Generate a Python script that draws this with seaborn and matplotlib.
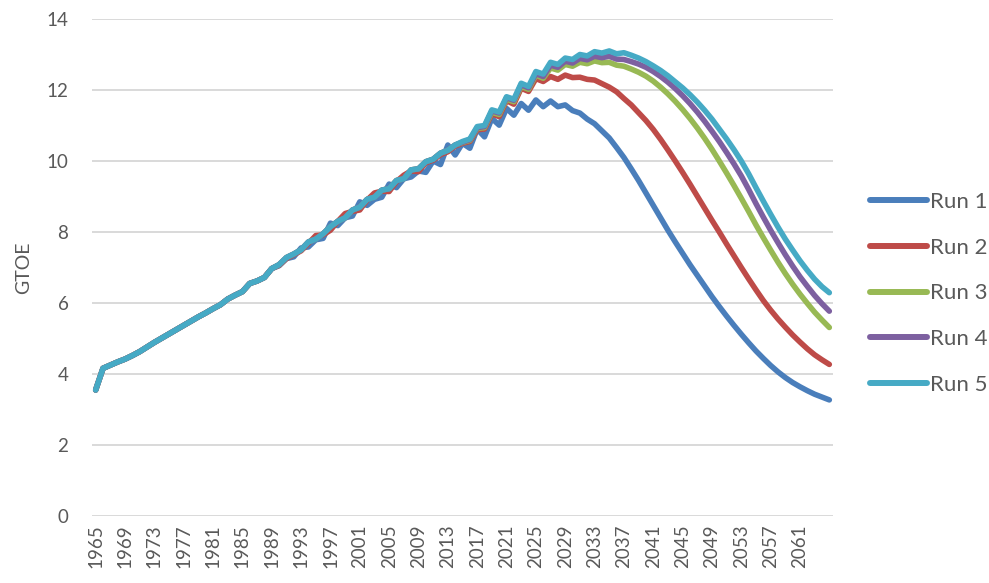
import numpy as np
import pandas as pd
import matplotlib
matplotlib.use("Agg")
import matplotlib.pyplot as plt
import seaborn as sns

years = list(range(1965, 2066))
history_1965_1989 = [3.55, 4.16, 4.25, 4.34, 4.42, 4.52, 4.63, 4.76, 4.89, 5.01,
                     5.13, 5.25, 5.37, 5.49, 5.61, 5.72, 5.84, 5.95, 6.11, 6.22,
                     6.32, 6.55, 6.62, 6.72, 6.97]

run1_1990_2065 = [7.05, 7.25, 7.30, 7.55, 7.58, 7.78, 7.82, 8.25, 8.18, 8.40,
                  8.45, 8.85, 8.75, 8.92, 8.98, 9.35, 9.25, 9.50, 9.55, 9.72,
                  9.68, 10.00, 9.90, 10.45, 10.17, 10.50, 10.36, 10.90, 10.68, 11.20,
                  11.01, 11.48, 11.29, 11.62, 11.43, 11.72, 11.53, 11.69, 11.53, 11.58,
                  11.42, 11.35, 11.18, 11.05, 10.85, 10.65, 10.38, 10.10, 9.78, 9.45,
                  9.10, 8.75, 8.40, 8.05, 7.72, 7.40, 7.08, 6.78, 6.48, 6.18,
                  5.90, 5.63, 5.37, 5.12, 4.88, 4.65, 4.44, 4.24, 4.06, 3.90,
                  3.76, 3.64, 3.53, 3.43, 3.35, 3.27]
run2_1990_2065 = [7.06, 7.25, 7.36, 7.47, 7.68, 7.90, 7.92, 8.05, 8.30, 8.52,
                  8.58, 8.62, 8.90, 9.10, 9.15, 9.14, 9.42, 9.60, 9.72, 9.70,
                  9.95, 10.02, 10.18, 10.26, 10.42, 10.50, 10.55, 10.88, 10.90, 11.33,
                  11.25, 11.70, 11.60, 12.05, 11.96, 12.32, 12.24, 12.38, 12.30, 12.42,
                  12.35, 12.36, 12.30, 12.28, 12.18, 12.08, 11.95, 11.76, 11.58, 11.36,
                  11.14, 10.89, 10.61, 10.31, 10.00, 9.68, 9.35, 9.01, 8.67, 8.33,
                  8.00, 7.66, 7.33, 7.00, 6.68, 6.37, 6.07, 5.80, 5.55, 5.32,
                  5.10, 4.90, 4.71, 4.54, 4.40, 4.27]
run3_1990_2065 = [7.08, 7.28, 7.38, 7.50, 7.72, 7.80, 7.95, 8.15, 8.30, 8.40,
                  8.62, 8.70, 8.92, 8.98, 9.18, 9.22, 9.45, 9.50, 9.75, 9.78,
                  9.98, 10.05, 10.22, 10.30, 10.45, 10.52, 10.58, 10.92, 10.94, 11.37,
                  11.31, 11.74, 11.67, 12.10, 12.02, 12.42, 12.33, 12.62, 12.56, 12.72,
                  12.67, 12.78, 12.74, 12.82, 12.77, 12.78, 12.70, 12.67, 12.59, 12.50,
                  12.39, 12.25, 12.08, 11.89, 11.68, 11.45, 11.20, 10.93, 10.64, 10.33,
                  10.00, 9.66, 9.31, 8.95, 8.58, 8.20, 7.84, 7.49, 7.15, 6.83,
                  6.53, 6.25, 5.99, 5.74, 5.52, 5.31]
run4_1990_2065 = [7.08, 7.28, 7.38, 7.50, 7.72, 7.80, 7.95, 8.15, 8.30, 8.40,
                  8.62, 8.70, 8.92, 8.98, 9.18, 9.22, 9.45, 9.50, 9.75, 9.78,
                  9.98, 10.05, 10.22, 10.30, 10.45, 10.53, 10.60, 10.94, 10.97, 11.41,
                  11.35, 11.78, 11.71, 12.15, 12.06, 12.46, 12.38, 12.70, 12.64, 12.81,
                  12.76, 12.89, 12.85, 12.95, 12.91, 12.95, 12.87, 12.86, 12.80, 12.73,
                  12.64, 12.52, 12.38, 12.22, 12.04, 11.84, 11.62, 11.38, 11.12, 10.84,
                  10.55, 10.24, 9.92, 9.58, 9.20, 8.80, 8.42, 8.05, 7.70, 7.36,
                  7.04, 6.74, 6.47, 6.21, 5.98, 5.77]
run5_1990_2065 = [7.08, 7.28, 7.38, 7.50, 7.72, 7.80, 7.95, 8.15, 8.30, 8.40,
                  8.62, 8.70, 8.92, 8.98, 9.18, 9.22, 9.45, 9.50, 9.75, 9.78,
                  9.98, 10.05, 10.22, 10.30, 10.45, 10.55, 10.62, 10.97, 11.00, 11.44,
                  11.38, 11.81, 11.74, 12.19, 12.10, 12.52, 12.45, 12.78, 12.72, 12.90,
                  12.86, 13.00, 12.96, 13.08, 13.04, 13.10, 13.02, 13.05, 12.98, 12.90,
                  12.80, 12.68, 12.55, 12.40, 12.23, 12.06, 11.87, 11.66, 11.43, 11.18,
                  10.90, 10.62, 10.32, 10.00, 9.64, 9.25, 8.87, 8.50, 8.14, 7.80,
                  7.49, 7.19, 6.92, 6.67, 6.46, 6.29]

run_names = ["Run 1", "Run 2", "Run 3", "Run 4", "Run 5"]
run_tails = [run1_1990_2065, run2_1990_2065, run3_1990_2065, run4_1990_2065, run5_1990_2065]
colors = ["#4A7EBB", "#BE4B48", "#98B954", "#7D60A0", "#46AAC5"]
tick_years = list(range(1965, 2062, 4))

rows = []
for name, tail in zip(run_names, run_tails):
    vals = history_1965_1989 + tail
    assert len(vals) == len(years)
    for y, v in zip(years, vals):
        rows.append({"Year": y, "GTOE": v, "Run": name})
df = pd.DataFrame(rows)

sns.set_style("white")
plt.rcParams["font.family"] = ["Lato", "DejaVu Sans"]

fig = plt.figure(figsize=(9.89, 5.83), dpi=100)
ax = fig.add_axes([92 / 989, 1 - 516 / 583, (833 - 92) / 989, (516 - 19) / 583])

sns.lineplot(data=df, x="Year", y="GTOE", hue="Run", hue_order=run_names,
             palette=colors, linewidth=4.0, estimator=None, ax=ax,
             solid_capstyle="round", solid_joinstyle="round", legend=True)

ax.set_xlim(1964.5, 2065.5)
ax.set_ylim(0, 14)
ax.set_yticks(range(0, 15, 2))
ax.set_xticks(tick_years)
ax.set_xticklabels([str(t) for t in tick_years], rotation=90)
ax.tick_params(axis="both", length=0, labelsize=13.5, colors="#595959")
ax.tick_params(axis="x", pad=6)
ax.tick_params(axis="y", pad=17)
ax.grid(axis="y", color="#D9D9D9", linewidth=1.4)
ax.grid(axis="x", visible=False)
ax.set_axisbelow(True)
for s in ax.spines.values():
    s.set_visible(False)
ax.set_xlabel("")
ax.set_ylabel("GTOE", fontsize=14, color="#595959", labelpad=10)

handles, labels = ax.get_legend_handles_labels()
ax.get_legend().remove()
leg = fig.legend(handles, labels, loc="center left", bbox_to_anchor=(870 / 989, 1 - 293.5 / 583),
                 frameon=False, fontsize=16, handlelength=2.56, labelspacing=1.16,
                 handletextpad=0.15, borderpad=0, borderaxespad=0)
for t in leg.get_texts():
    t.set_color("#595959")
for h in leg.get_lines():
    h.set_linewidth(4.3)
    h.set_solid_capstyle("round")

fig.savefig("out.png", dpi=100)
